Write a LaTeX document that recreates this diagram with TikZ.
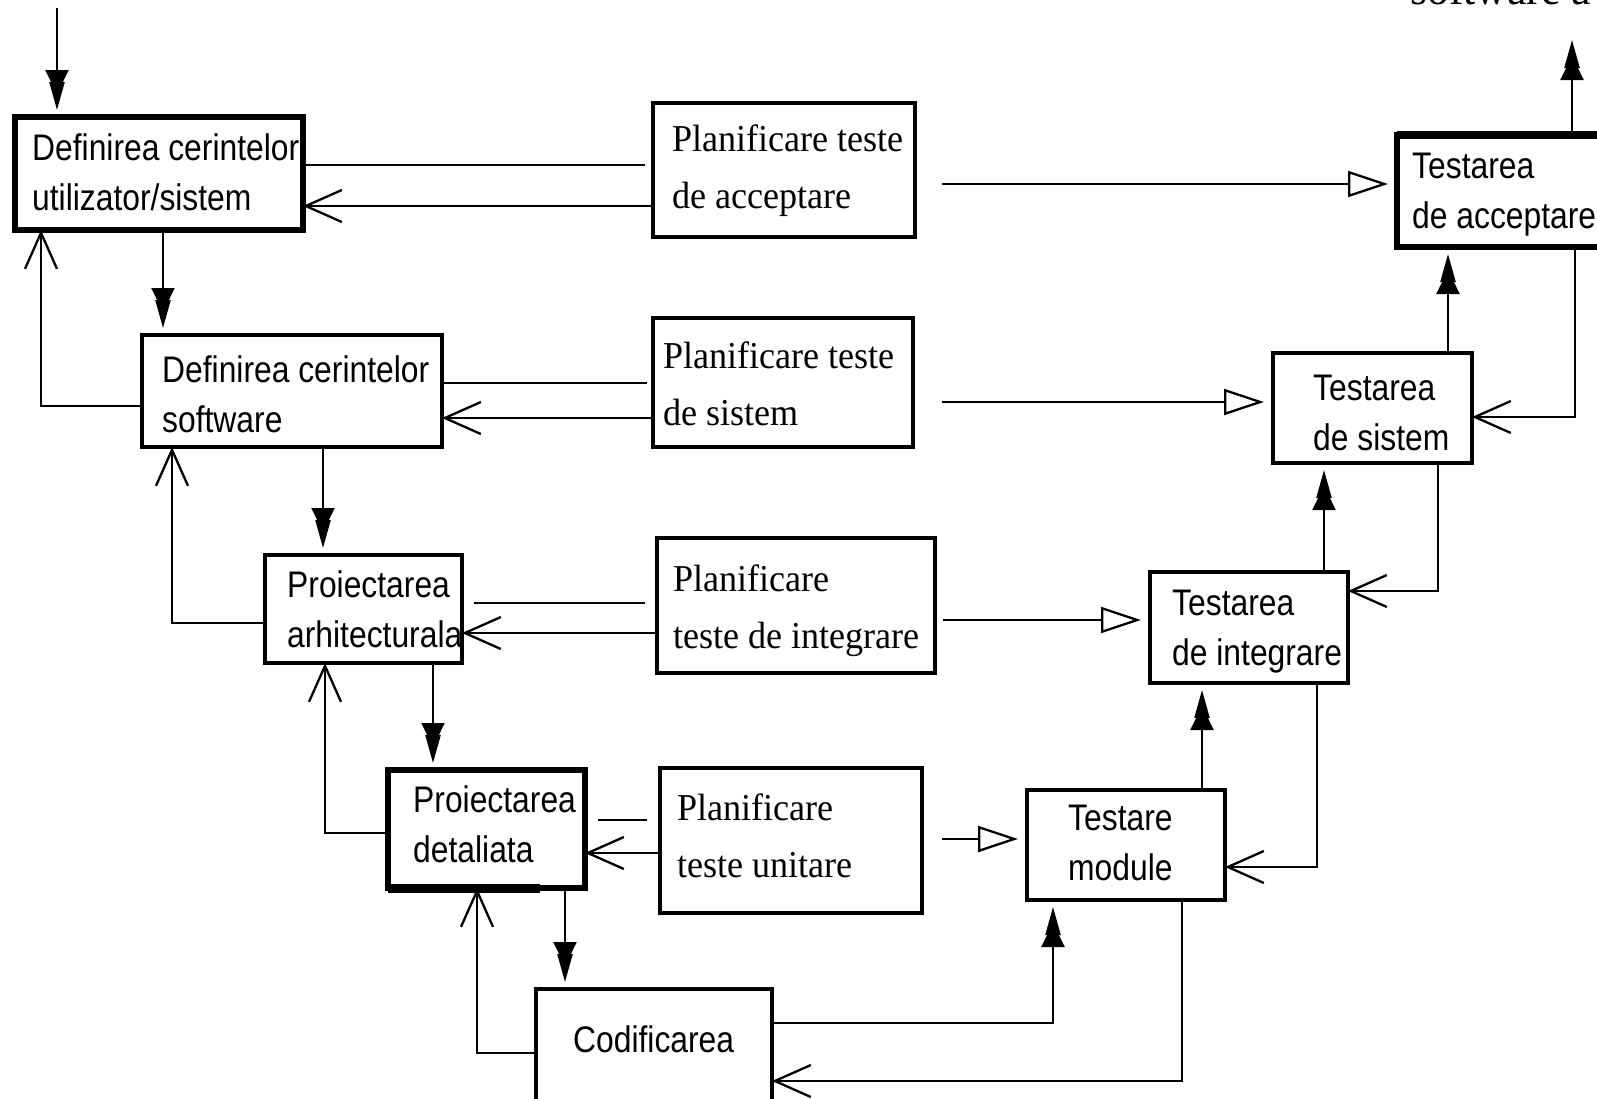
\documentclass[tikz,border=0pt]{standalone}
\usepackage{fontspec}
\usetikzlibrary{arrows.meta}
\newfontfamily\sansf[FakeStretch=0.86]{Liberation Sans}
\newfontfamily\serf[FakeStretch=0.95]{Liberation Serif}
\begin{document}
\begin{tikzpicture}[x=1pt,y=-1pt,
  box/.style={draw, line width=4.5pt, rectangle, inner sep=0pt, outer sep=0pt},
  heavy/.style={box, line width=6pt},
  % multi-line labels are placed by the baseline of their last line
  stxt/.style={anchor=base west, inner sep=0pt, align=left,
    font=\sansf\fontsize{37}{50}\selectfont},
  ptxt/.style={anchor=base west, inner sep=0pt, align=left,
    font=\serf\fontsize{38}{57}\selectfont},
  wire/.style={line width=2.3pt},
  fwd/.style={wire, shorten >=7pt,
    -{Triangle[length=24pt,width=23pt,sep=-12pt]Triangle[length=28pt,width=15pt]}},
  back/.style={wire, -{Straight Barb[length=36pt,width=32pt,line width=2.3pt]}},
  test/.style={wire, shorten >=9pt,
    -{Triangle[open,length=40pt,width=26pt,line width=2.3pt]}}
]
\useasboundingbox (0,0) rectangle (1597,1098);
\fill[white] (0,0) rectangle (1597,1098);
\clip (0,0) rectangle (1597,1098);

% heading line running off the top edge
\node[anchor=base west, inner sep=0pt, font=\serf\fontsize{46}{50}\selectfont]
  (hdr) at (1410,4) {software a};

% development phases (left branch)
\node[heavy, minimum width=288pt, minimum height=113pt] (d1) at (159,173.5) {};
\node[box, minimum width=300pt, minimum height=112pt] (d2) at (292,391) {};
\node[box, minimum width=197pt, minimum height=108pt] (p3) at (363.5,609) {};
\node[heavy, minimum width=197pt, minimum height=118pt] (p4) at (486.5,829) {};
\node[box, minimum width=236pt, minimum height=121pt] (cod) at (654,1049.5) {};

% test planning (middle column)
\node[box, minimum width=262pt, minimum height=134pt] (pa) at (784,170) {};
\node[box, minimum width=260pt, minimum height=129pt] (ps) at (783,382.5) {};
\node[box, minimum width=278pt, minimum height=135pt] (pi) at (796,605.5) {};
\node[box, minimum width=262pt, minimum height=145pt] (pu) at (791,840.5) {};

% testing phases (right branch)
\node[heavy, minimum width=208pt, minimum height=112pt] (ta) at (1501,191) {};
\node[box, minimum width=199pt, minimum height=110pt] (ts) at (1372.5,408) {};
\node[box, minimum width=198pt, minimum height=111pt] (ti) at (1249,627.5) {};
\node[box, minimum width=198pt, minimum height=110pt] (tm) at (1126,845) {};

% heavier edges
\draw[line width=8pt] (ta.north west) -- (ta.north east);
\draw[line width=9pt] (p4.south west) -- ([xshift=152pt]p4.south west);

% labels
\node[stxt] (l-d1) at (32,210) {Definirea cerintelor\\utilizator/sistem};
\node[stxt] (l-d2) at (162,432) {Definirea cerintelor\\software};
\node[stxt] (l-p3) at (287,647) {Proiectarea\\arhitecturala};
\node[stxt] (l-p4) at (413,862) {Proiectarea\\detaliata};
\node[stxt] (l-cod) at (573,1052) {Codificarea};

\node[ptxt] (l-pa) at (672,208) {Planificare teste\\de acceptare};
\node[ptxt] (l-ps) at (663,425) {Planificare teste\\de sistem};
\node[ptxt] (l-pi) at (673,648) {Planificare\\teste de integrare};
\node[ptxt] (l-pu) at (677,877) {Planificare\\teste unitare};

\node[stxt] (l-ta) at (1412,228) {Testarea\\de acceptare};
\node[stxt] (l-ts) at (1313,450) {Testarea\\de sistem};
\node[stxt] (l-ti) at (1172,665) {Testarea\\de integrare};
\node[stxt] (l-tm) at (1068,880) {Testare\\module};

% flow down the left branch
\coordinate (in) at (57,8);
\draw[fwd] (in) -- (d1.north -| in);
\draw[fwd] (d1.south -| 163,0) -- (d2.north -| 163,0);
\draw[fwd] (d2.south -| 323,0) -- (p3.north -| 323,0);
\draw[fwd] (p3.south -| 433,0) -- (p4.north -| 433,0);
\draw[fwd] (p4.south -| 565,0) -- (cod.north -| 565,0);

% feedback up the left branch
\draw[back] (d2.west |- 0,406) -| (d1.south -| 41,0);
\draw[back] (p3.west |- 0,623) -| (d2.south -| 172,0);
\draw[back] (p4.west |- 0,833) -| (p3.south -| 325,0);
\draw[back] (cod.west |- 0,1053) -| (p4.south -| 477,0);

% phases <-> test planning
\draw[wire, shorten >=8pt] (d1.east |- 0,165) -- (pa.west |- 0,165);
\draw[back] (pa.west |- 0,206) -- (d1.east |- 0,206);
\draw[wire, shorten >=6pt] (d2.east |- 0,383) -- (ps.west |- 0,383);
\draw[back] (ps.west |- 0,418) -- (d2.east |- 0,418);
\draw[wire, shorten <=12pt, shorten >=12pt] (p3.east |- 0,603) -- (pi.west |- 0,603);
\draw[back] (pi.west |- 0,633) -- (p3.east |- 0,633);
\draw[wire, shorten <=13pt, shorten >=13pt] (p4.east |- 0,820) -- (pu.west |- 0,820);
\draw[back] (pu.west |- 0,853) -- (p4.east |- 0,853);

% test planning -> testing
\draw[test, shorten <=27pt] (pa.east |- 0,184) -- (ta.west |- 0,184);
\draw[test, shorten <=29pt] (ps.east |- 0,402) -- (ts.west |- 0,402);
\draw[test, shorten <=8pt] (pi.east |- 0,620) -- (ti.west |- 0,620);
\draw[test, shorten <=20pt] (pu.east |- 0,839) -- (tm.west |- 0,839);

% flow up the right branch
\draw[fwd] (cod.east |- 0,1023) -| (tm.south -| 1053,0);
\draw[fwd] (tm.north -| 1202,0) -- (ti.south -| 1202,0);
\draw[fwd] (ti.north -| 1324,0) -- (ts.south -| 1324,0);
\draw[fwd] (ts.north -| 1448,0) -- (ta.south -| 1448,0);
\coordinate (out) at (1572,40);
\draw[fwd, shorten >=0pt] (ta.north -| out) -- (out);

% feedback down the right branch
\draw[back] (ta.south -| 1575,0) |- (ts.east |- 0,417);
\draw[back] (ts.south -| 1438,0) |- (ti.east |- 0,591);
\draw[back] (ti.south -| 1317,0) |- (tm.east |- 0,867);
\draw[back] (tm.south -| 1182,0) |- (cod.east |- 0,1081);
\end{tikzpicture}
\end{document}
